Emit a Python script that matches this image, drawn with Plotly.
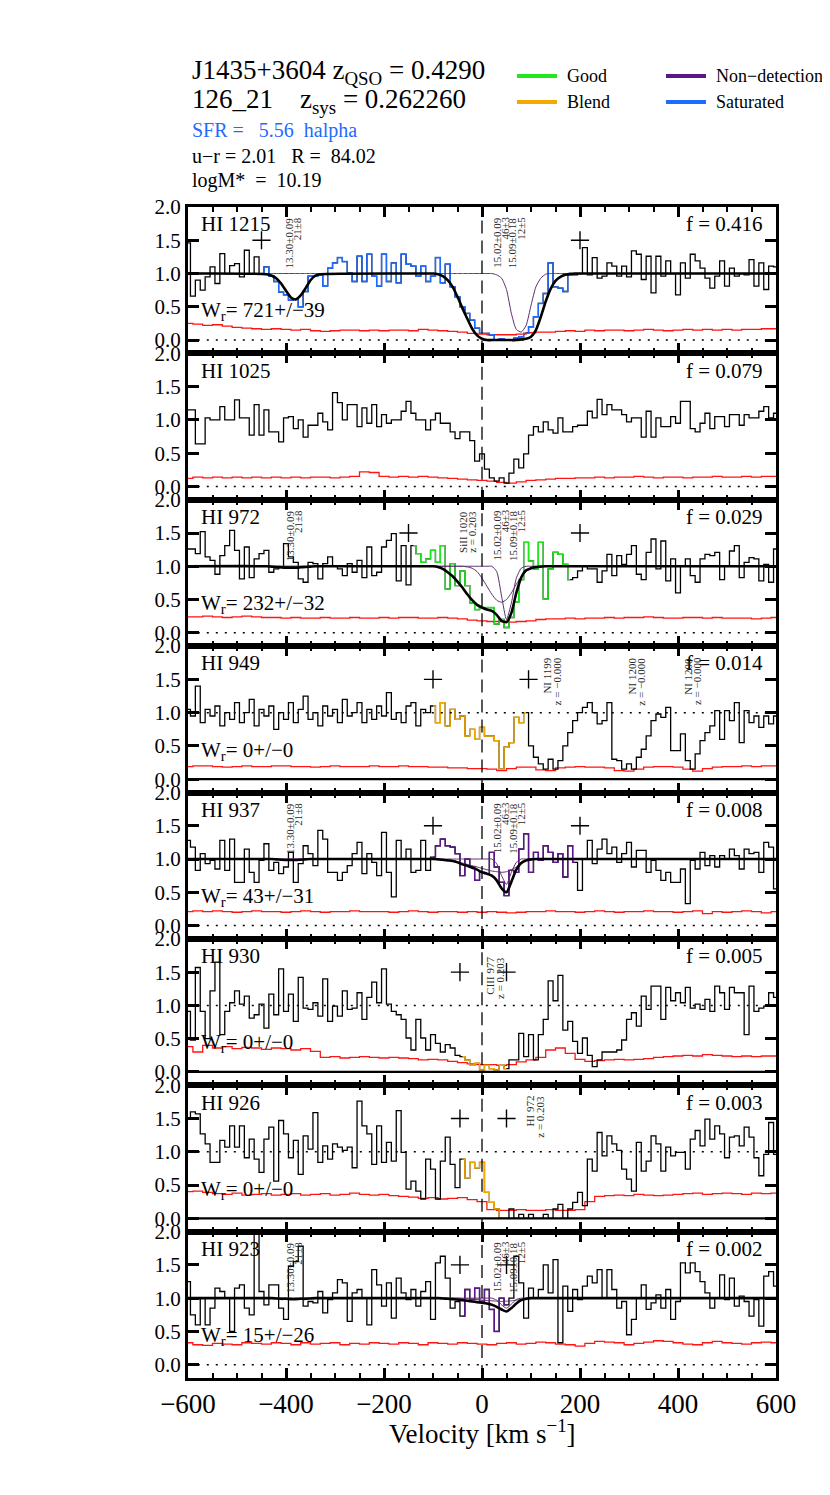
import plotly.graph_objects as go
from plotly.subplots import make_subplots

SERIF = "Liberation Serif, Times New Roman, serif"

# velocity grids (km/s)
VEL = list(range(-600, 601, 10))
ERR_VEL = list(range(-600, 601, 20))
MODEL_VEL = [-600,
             -440, -430, -420, -410, -400, -390, -380, -370, -360, -350, -340, -330,
             -110, -100, -90, -80, -70, -60, -50, -40, -30, -20, -10,
             0, 10, 20, 30, 40, 50, 60, 70, 80, 90,
             100, 110, 120, 130, 140, 150, 160, 170, 180, 190,
             200, 600]

LINES = ["HI 1215", "HI 1025", "HI 972", "HI 949", "HI 937", "HI 930", "HI 926", "HI 923"]
F_VALUES = ["0.416", "0.079", "0.029", "0.014", "0.008", "0.005", "0.003", "0.002"]
W_VALUES = ["721+/\u221239", None, "232+/\u221232", "0+/\u22120", "43+/\u221231",
            "0+/\u22120", "0+/\u22120", "15+/\u221226"]
LIMITS = [(-450, 200), None, (-150, 200), (-100, 95), (-100, 200), (-45, 50), (-45, 50), (-45, 50)]
FLAGS = ["sat", None, "good", "blend", "nondet", "blend", "blend", "nondet"]
SPANS = [(-450, 190), None, (-140, 180), (-100, 90), (-100, 190), (-40, 50), (-40, 40), (-40, 50)]
CONT_STYLE = ["model", None, "model", "dot", "model", "dot", "dot", "model"]
ZERO_STYLE = ["dot", "dot", "dot", "solid", "dot", "solid", "solid", "dot"]

FLUX_1215 = [1.46, 0.66, 0.90, 0.75, 0.95, 1.10, 0.85, 1.30, 1.00, 1.12,
             1.15, 0.95, 1.35, 1.00, 1.25, 1.00, 1.10, 0.96, 0.88, 0.72,
             0.68, 0.60, 0.62, 0.50, 0.73, 0.96, 0.96, 0.98, 0.81, 1.08,
             1.16, 1.24, 1.18, 1.01, 0.88, 1.26, 0.88, 1.29, 0.96, 0.81,
             1.29, 0.88, 1.16, 0.86, 1.29, 1.14, 1.11, 0.96, 1.11, 0.88,
             0.96, 1.24, 0.86, 1.14, 0.80, 0.65, 0.50, 0.40, 0.30, 0.18,
             0.10, 0.10, 0.08, 0.00, 0.02, 0.00, 0.00, 0.03, 0.05, 0.10,
             0.20, 0.35, 0.55, 0.70, 1.16, 0.80, 0.78, 0.73, 0.98, 0.98,
             1.00, 1.39, 0.98, 1.24, 0.93, 0.96, 1.16, 1.11, 0.96, 1.11,
             0.95, 1.34, 1.29, 0.91, 1.26, 0.71, 1.26, 0.96, 1.19, 1.00,
             0.68, 1.16, 0.93, 1.29, 1.19, 1.08, 0.93, 0.78, 0.96, 1.19,
             0.81, 1.08, 0.96, 1.00, 0.98, 1.21, 0.81, 1.16, 0.76, 1.11,
             1.10]
FLUX_1025 = [1.15, 1.15, 0.64, 0.64, 1.03, 1.00, 1.00, 1.20, 1.00, 1.00,
             1.30, 1.03, 1.03, 0.77, 1.23, 0.77, 1.15, 0.82, 0.82, 0.67,
             1.03, 1.05, 0.87, 1.00, 0.74, 0.92, 0.92, 1.10, 0.97, 0.85,
             1.41, 1.26, 1.00, 1.23, 1.23, 0.90, 1.18, 0.95, 1.23, 0.90,
             1.08, 0.95, 1.00, 1.00, 1.13, 1.28, 1.10, 1.00, 1.00, 0.85,
             1.00, 1.10, 0.95, 0.95, 0.82, 0.72, 0.82, 0.82, 0.69, 0.38,
             0.49, 0.26, 0.13, 0.08, 0.13, 0.05, 0.20, 0.41, 0.28, 0.49,
             0.77, 0.90, 0.82, 0.97, 0.85, 0.80, 1.03, 0.82, 0.82, 0.90,
             0.92, 0.92, 1.13, 1.03, 1.31, 1.08, 1.23, 1.15, 1.15, 1.08,
             0.97, 1.03, 1.03, 0.74, 1.13, 0.74, 1.03, 0.90, 0.90, 1.05,
             0.95, 1.28, 1.28, 0.87, 0.82, 0.95, 1.10, 0.87, 1.05, 1.05,
             0.90, 1.08, 1.08, 0.92, 1.08, 1.03, 1.03, 1.13, 1.20, 1.03,
             1.10]
FLUX_972 = [1.26, 1.26, 1.19, 1.52, 1.14, 1.09, 0.88, 1.16, 1.31, 1.54,
            1.24, 0.81, 1.29, 0.83, 1.11, 1.19, 1.24, 0.91, 0.96, 0.98,
            1.34, 1.14, 1.06, 0.81, 0.76, 1.06, 1.04, 0.81, 1.04, 1.14,
            1.01, 0.96, 0.86, 1.04, 0.91, 1.09, 0.83, 1.29, 0.86, 0.91,
            1.29, 1.39, 1.49, 0.78, 1.31, 0.72, 1.31, 1.19, 1.06, 1.11,
            1.24, 1.06, 1.31, 0.66, 1.04, 0.71, 0.93, 0.71, 0.45, 0.35,
            0.38, 0.38, 0.38, 0.13, 0.20, 0.08, 0.23, 0.46, 0.80, 1.36,
            1.08, 0.96, 1.36, 0.51, 0.96, 1.21, 1.18, 1.03, 0.80, 0.83,
            0.93, 1.00, 0.96, 0.96, 0.76, 0.93, 1.18, 0.86, 1.16, 1.03,
            1.18, 1.31, 0.88, 0.80, 1.21, 1.41, 0.96, 1.38, 0.78, 1.11,
            0.60, 1.00, 1.11, 0.86, 0.76, 1.11, 1.18, 1.16, 1.21, 0.80,
            1.00, 1.23, 1.31, 0.83, 1.06, 1.13, 1.11, 0.78, 1.03, 0.76,
            1.26]
FLUX_949 = [1.05, 0.95, 1.40, 0.85, 1.05, 0.95, 1.10, 0.80, 1.00, 0.90,
            1.15, 0.85, 1.00, 1.20, 0.80, 1.05, 0.95, 1.10, 0.75, 1.00,
            0.90, 1.15, 0.85, 1.05, 1.25, 0.90, 1.00, 0.80, 1.10, 0.95,
            1.05, 0.85, 1.20, 0.95, 1.00, 1.15, 0.85, 1.05, 0.90, 1.10,
            0.95, 1.30, 0.90, 1.00, 0.85, 1.10, 1.15, 0.80, 1.05, 1.00,
            1.10, 0.85, 1.15, 0.80, 1.05, 0.90, 0.95, 0.65, 0.75, 0.60,
            0.78, 0.65, 0.65, 0.58, 0.15, 0.48, 0.55, 0.93, 0.85, 1.00,
            0.50, 0.33, 0.23, 0.15, 0.30, 0.15, 0.28, 0.50, 0.70, 0.88,
            1.00, 1.08, 1.15, 1.00, 0.83, 0.88, 1.15, 0.30, 0.28, 0.15,
            0.23, 0.15, 0.33, 0.45, 0.65, 0.88, 0.98, 0.93, 1.08, 0.43,
            0.43, 0.68, 0.28, 0.15, 0.38, 0.58, 0.70, 0.80, 1.03, 0.60,
            1.03, 0.88, 1.15, 0.55, 1.03, 0.85, 0.95, 0.78, 0.95, 0.83,
            0.95]
FLUX_937 = [1.28, 1.18, 0.83, 1.08, 0.93, 0.98, 0.85, 1.28, 0.83, 1.30,
            0.65, 0.65, 1.15, 0.80, 0.65, 0.98, 1.23, 0.83, 0.95, 0.78,
            0.88, 1.10, 0.65, 0.93, 1.20, 1.08, 0.90, 1.43, 1.30, 0.80,
            0.80, 0.68, 0.80, 0.90, 1.08, 1.25, 0.78, 1.08, 0.95, 0.75,
            1.40, 0.80, 0.43, 1.28, 1.00, 1.15, 0.80, 0.83, 1.28, 0.83,
            1.03, 1.20, 1.30, 1.20, 1.18, 1.08, 0.75, 1.00, 0.88, 0.68,
            0.80, 0.78, 1.10, 0.88, 0.65, 0.45, 0.83, 0.80, 1.15, 1.38,
            0.80, 1.10, 0.98, 1.20, 1.10, 0.95, 1.08, 0.73, 1.20, 0.95,
            0.53, 1.00, 1.28, 0.93, 1.15, 1.30, 1.08, 1.18, 0.95, 1.08,
            1.25, 0.88, 1.13, 1.13, 0.80, 0.98, 0.83, 0.68, 0.80, 0.65,
            0.65, 0.85, 0.33, 0.98, 0.85, 1.10, 0.90, 1.05, 0.88, 1.05,
            1.00, 1.15, 1.05, 0.85, 1.15, 1.08, 1.10, 0.80, 1.25, 1.18,
            0.55]
FLUX_930 = [0.91, 0.48, 1.57, 0.91, 0.50, 1.22, 1.65, 0.56, 0.91, 1.04,
            1.22, 1.02, 1.14, 0.81, 0.86, 1.02, 0.66, 1.17, 0.86, 1.55,
            0.91, 1.17, 0.76, 1.42, 0.96, 0.94, 1.04, 0.84, 1.40, 0.76,
            0.99, 0.84, 1.22, 0.94, 0.96, 1.19, 0.79, 1.12, 1.35, 1.04,
            1.55, 1.02, 0.91, 0.86, 0.79, 0.51, 0.33, 0.79, 0.51, 0.33,
            0.56, 0.43, 0.30, 0.41, 0.36, 0.25, 0.23, 0.18, 0.10, 0.13,
            0.03, 0.10, 0.05, 0.03, 0.10, 0.05, 0.18, 0.18, 0.58, 0.23,
            0.56, 0.18, 0.56, 0.79, 1.37, 1.07, 1.45, 0.63, 0.76, 0.46,
            0.28, 0.51, 0.25, 0.08, 0.18, 0.30, 0.30, 0.30, 0.33, 0.48,
            0.79, 0.89, 0.69, 1.14, 0.94, 1.29, 1.29, 0.79, 1.27, 1.07,
            1.19, 1.04, 1.27, 0.96, 1.02, 0.94, 1.09, 0.91, 1.29, 1.19,
            0.94, 1.27, 1.19, 1.19, 0.56, 1.29, 0.91, 0.96, 0.99, 1.19,
            1.12]
FLUX_926 = [1.49, 1.60, 1.57, 1.27, 1.12, 0.84, 0.84, 1.17, 1.07, 1.39,
            1.07, 1.39, 0.91, 1.19, 0.89, 0.69, 1.19, 1.37, 0.56, 1.47,
            1.27, 0.91, 1.17, 0.66, 1.24, 1.04, 1.59, 0.84, 1.09, 0.89,
            1.12, 1.07, 1.02, 1.07, 0.76, 1.76, 1.39, 1.27, 0.81, 1.39,
            0.84, 1.14, 0.86, 1.62, 0.99, 0.44, 0.56, 0.41, 0.29, 0.89,
            0.74, 0.29, 0.86, 1.22, 0.81, 0.46, 0.89, 0.61, 0.84, 0.76,
            0.84, 0.39, 0.24, 0.14, 0.00, 0.00, 0.14, 0.00, 0.06, 0.00,
            0.06, 0.00, 0.00, 0.06, 0.00, 0.14, 0.21, 0.00, 0.14, 0.24,
            0.39, 0.19, 0.89, 0.71, 1.29, 0.94, 1.24, 1.12, 1.02, 0.74,
            0.59, 0.41, 1.14, 0.71, 0.86, 1.24, 1.12, 0.71, 1.07, 0.94,
            0.99, 0.99, 0.74, 1.19, 1.32, 1.09, 1.49, 1.19, 1.39, 1.27,
            0.91, 1.22, 1.24, 1.09, 1.37, 1.22, 0.91, 0.64, 0.96, 1.44,
            0.96]
FLUX_923 = [1.25, 0.75, 0.60, 1.00, 0.60, 0.85, 1.15, 1.10, 1.00, 0.50,
            1.15, 1.20, 0.85, 0.75, 2.00, 1.10, 0.90, 1.20, 1.20, 0.85,
            0.68, 1.48, 1.55, 1.78, 0.88, 0.95, 0.93, 1.10, 0.78, 0.98,
            1.08, 1.28, 1.23, 0.65, 1.08, 1.13, 1.00, 0.60, 1.43, 1.20,
            0.88, 1.23, 0.70, 1.30, 1.08, 0.98, 1.13, 0.88, 1.10, 1.25,
            0.68, 1.53, 1.63, 1.30, 0.85, 0.95, 0.73, 1.13, 0.98, 1.15,
            0.95, 1.13, 0.83, 0.50, 1.00, 0.90, 1.00, 1.63, 1.23, 0.70,
            1.15, 1.00, 1.13, 1.50, 1.08, 1.58, 0.33, 1.18, 0.80, 1.13,
            0.98, 1.18, 1.33, 1.23, 1.43, 1.00, 1.43, 1.13, 0.85, 0.95,
            0.45, 0.68, 1.00, 1.20, 0.83, 0.93, 1.05, 0.85, 1.13, 0.68,
            0.95, 1.53, 1.38, 1.53, 1.40, 1.25, 1.08, 0.85, 1.00, 1.35,
            0.98, 1.30, 0.88, 1.03, 0.95, 0.73, 0.98, 0.58, 1.33, 1.40,
            1.18]

ERR_1215 = [0.25, 0.24, 0.22, 0.23, 0.21, 0.19, 0.18, 0.17, 0.16, 0.17,
            0.16, 0.15, 0.16, 0.14, 0.13, 0.14, 0.15, 0.15, 0.14, 0.15,
            0.14, 0.15, 0.15, 0.14, 0.16, 0.15, 0.14, 0.13, 0.12, 0.10,
            0.09, 0.08, 0.08, 0.08, 0.09, 0.11, 0.12, 0.12, 0.13, 0.14,
            0.13, 0.15, 0.14, 0.15, 0.15, 0.14, 0.15, 0.16, 0.15, 0.14,
            0.15, 0.16, 0.15, 0.16, 0.15, 0.16, 0.15, 0.16, 0.16, 0.17,
            0.17]
ERR_1025 = [0.12, 0.14, 0.13, 0.14, 0.13, 0.14, 0.13, 0.14, 0.13, 0.14,
            0.13, 0.14, 0.13, 0.14, 0.14, 0.13, 0.14, 0.15, 0.22, 0.21,
            0.15, 0.14, 0.15, 0.14, 0.15, 0.14, 0.13, 0.12, 0.11, 0.10,
            0.09, 0.08, 0.06, 0.05, 0.07, 0.09, 0.10, 0.11, 0.12, 0.12,
            0.13, 0.13, 0.14, 0.13, 0.14, 0.14, 0.15, 0.14, 0.13, 0.14,
            0.14, 0.13, 0.14, 0.14, 0.15, 0.14, 0.14, 0.15, 0.14, 0.15,
            0.15]
ERR_972 = [0.24, 0.24, 0.25, 0.24, 0.23, 0.24, 0.25, 0.24, 0.23, 0.23,
           0.22, 0.23, 0.22, 0.22, 0.23, 0.22, 0.22, 0.23, 0.22, 0.22,
           0.23, 0.22, 0.23, 0.23, 0.22, 0.22, 0.23, 0.22, 0.21, 0.19,
           0.18, 0.17, 0.17, 0.16, 0.17, 0.18, 0.20, 0.21, 0.21, 0.22,
           0.21, 0.22, 0.22, 0.23, 0.22, 0.23, 0.23, 0.24, 0.23, 0.22,
           0.22, 0.23, 0.23, 0.22, 0.23, 0.22, 0.22, 0.22, 0.21, 0.22,
           0.23]
ERR_949 = [0.19, 0.20, 0.20, 0.19, 0.18, 0.19, 0.20, 0.19, 0.19, 0.20,
           0.20, 0.19, 0.19, 0.18, 0.19, 0.20, 0.19, 0.19, 0.19, 0.20,
           0.19, 0.19, 0.20, 0.19, 0.19, 0.18, 0.18, 0.17, 0.17, 0.16,
           0.16, 0.15, 0.13, 0.16, 0.18, 0.18, 0.14, 0.13, 0.17, 0.18,
           0.19, 0.18, 0.18, 0.17, 0.13, 0.12, 0.15, 0.18, 0.19, 0.19,
           0.18, 0.15, 0.12, 0.16, 0.18, 0.19, 0.19, 0.20, 0.19, 0.20,
           0.20]
ERR_937 = [0.21, 0.22, 0.21, 0.22, 0.21, 0.20, 0.21, 0.22, 0.21, 0.21,
           0.20, 0.21, 0.22, 0.21, 0.20, 0.21, 0.21, 0.22, 0.21, 0.21,
           0.21, 0.20, 0.21, 0.22, 0.21, 0.20, 0.21, 0.21, 0.20, 0.21,
           0.20, 0.21, 0.20, 0.19, 0.20, 0.21, 0.21, 0.22, 0.21, 0.21,
           0.20, 0.21, 0.22, 0.21, 0.20, 0.21, 0.21, 0.22, 0.21, 0.21,
           0.20, 0.21, 0.22, 0.18, 0.21, 0.20, 0.21, 0.22, 0.21, 0.19,
           0.21]
ERR_930 = [0.38, 0.30, 0.40, 0.36, 0.38, 0.35, 0.37, 0.36, 0.34, 0.36,
           0.35, 0.33, 0.35, 0.31, 0.22, 0.23, 0.21, 0.22, 0.23, 0.22,
           0.21, 0.22, 0.21, 0.20, 0.18, 0.19, 0.18, 0.16, 0.14, 0.12,
           0.11, 0.11, 0.10, 0.11, 0.15, 0.18, 0.22, 0.33, 0.36, 0.28,
           0.19, 0.16, 0.17, 0.18, 0.19, 0.18, 0.19, 0.20, 0.22, 0.23,
           0.24, 0.25, 0.24, 0.26, 0.25, 0.24, 0.23, 0.24, 0.23, 0.24,
           0.24]
ERR_926 = [0.40, 0.41, 0.39, 0.37, 0.36, 0.38, 0.35, 0.36, 0.37, 0.35,
           0.36, 0.37, 0.35, 0.36, 0.37, 0.35, 0.36, 0.38, 0.36, 0.35,
           0.36, 0.34, 0.33, 0.32, 0.30, 0.31, 0.29, 0.30, 0.31, 0.28,
           0.25, 0.13, 0.12, 0.12, 0.13, 0.12, 0.12, 0.13, 0.12, 0.12,
           0.13, 0.25, 0.33, 0.34, 0.35, 0.34, 0.36, 0.35, 0.34, 0.35,
           0.36, 0.37, 0.38, 0.36, 0.37, 0.38, 0.37, 0.36, 0.38, 0.37,
           0.38]
ERR_923 = [0.33, 0.30, 0.29, 0.32, 0.31, 0.30, 0.33, 0.32, 0.31, 0.33,
           0.32, 0.30, 0.33, 0.31, 0.32, 0.33, 0.30, 0.32, 0.31, 0.33,
           0.32, 0.31, 0.33, 0.32, 0.30, 0.33, 0.32, 0.31, 0.33, 0.32,
           0.31, 0.30, 0.32, 0.33, 0.31, 0.32, 0.34, 0.33, 0.31, 0.30,
           0.28, 0.32, 0.35, 0.34, 0.33, 0.30, 0.32, 0.34, 0.36, 0.35,
           0.33, 0.31, 0.30, 0.33, 0.35, 0.33, 0.32, 0.31, 0.33, 0.34,
           0.33]

# Voigt fits sampled on MODEL_VEL (total = thick black, components = thin)
MODEL_1215 = [1.0,
              0.99, 0.97, 0.93, 0.85, 0.74, 0.64, 0.61, 0.67, 0.78, 0.90, 0.97, 0.99,
              1.0, 1.0, 0.99, 0.96, 0.90, 0.80, 0.65, 0.48, 0.32, 0.17, 0.07,
              0.02, 0.0, 0.0, 0.0, 0.0, 0.0, 0.0, 0.0, 0.01, 0.02,
              0.05, 0.15, 0.35, 0.58, 0.77, 0.89, 0.95, 0.98, 0.995, 1.0,
              1.0, 1.0]
COMP_B_1215 = [1.0,
               1.0, 1.0, 1.0, 1.0, 1.0, 1.0, 1.0, 1.0, 1.0, 1.0, 1.0, 1.0,
               1.0, 1.0, 1.0, 1.0, 1.0, 1.0, 1.0, 1.0, 1.0, 1.0, 1.0,
               1.0, 1.0, 1.0, 0.98, 0.93, 0.76, 0.40, 0.16, 0.12, 0.22,
               0.52, 0.80, 0.93, 0.99, 1.0, 1.0, 1.0, 1.0, 1.0, 1.0,
               1.0, 1.0]
MODEL_972 = [1.0,
             1.0, 0.995, 0.99, 0.985, 0.98, 0.98, 0.98, 0.985, 0.99, 0.995, 1.0, 1.0,
             1.0, 1.0, 0.99, 0.96, 0.91, 0.85, 0.77, 0.68, 0.58, 0.49, 0.42,
             0.38, 0.35, 0.33, 0.27, 0.18, 0.16, 0.30, 0.60, 0.83, 0.94,
             0.97, 0.99, 0.995, 1.0, 1.0, 1.0, 1.0, 1.0, 1.0, 1.0,
             1.0, 1.0]
COMP_A_972 = [1.0,
              1.0, 1.0, 1.0, 1.0, 1.0, 1.0, 1.0, 1.0, 1.0, 1.0, 1.0, 1.0,
              1.0, 1.0, 1.0, 1.0, 1.0, 1.0, 1.0, 1.0, 0.99, 0.97, 0.92,
              0.82, 0.70, 0.58, 0.49, 0.46, 0.50, 0.60, 0.73, 0.84, 0.92,
              0.97, 0.99, 1.0, 1.0, 1.0, 1.0, 1.0, 1.0, 1.0, 1.0,
              1.0, 1.0]
COMP_B_972 = [1.0,
              1.0, 1.0, 1.0, 1.0, 1.0, 1.0, 1.0, 1.0, 1.0, 1.0, 1.0, 1.0,
              1.0, 1.0, 1.0, 1.0, 1.0, 1.0, 1.0, 1.0, 1.0, 1.0, 1.0,
              1.0, 1.0, 1.0, 0.92, 0.55, 0.20, 0.45, 0.82, 0.97, 1.0,
              1.0, 1.0, 1.0, 1.0, 1.0, 1.0, 1.0, 1.0, 1.0, 1.0,
              1.0, 1.0]
MODEL_937 = [1.0,
             1.0, 1.0, 0.995, 0.99, 0.985, 0.985, 0.985, 0.99, 0.995, 1.0, 1.0, 1.0,
             1.0, 1.0, 0.995, 0.99, 0.98, 0.97, 0.95, 0.92, 0.90, 0.87, 0.84,
             0.80, 0.78, 0.75, 0.68, 0.56, 0.50, 0.66, 0.84, 0.94, 0.98,
             0.995, 1.0, 1.0, 1.0, 1.0, 1.0, 1.0, 1.0, 1.0, 1.0,
             1.0, 1.0]
COMP_A_937 = [1.0,
              1.0, 1.0, 1.0, 1.0, 1.0, 1.0, 1.0, 1.0, 1.0, 1.0, 1.0, 1.0,
              1.0, 1.0, 1.0, 0.995, 0.99, 0.98, 0.96, 0.94, 0.92, 0.90, 0.88,
              0.86, 0.84, 0.82, 0.81, 0.80, 0.81, 0.84, 0.88, 0.93, 0.97,
              0.99, 1.0, 1.0, 1.0, 1.0, 1.0, 1.0, 1.0, 1.0, 1.0,
              1.0, 1.0]
COMP_B_937 = [1.0,
              1.0, 1.0, 1.0, 1.0, 1.0, 1.0, 1.0, 1.0, 1.0, 1.0, 1.0, 1.0,
              1.0, 1.0, 1.0, 1.0, 1.0, 1.0, 1.0, 1.0, 1.0, 1.0, 1.0,
              1.0, 1.0, 1.0, 0.93, 0.75, 0.62, 0.80, 0.95, 1.0, 1.0,
              1.0, 1.0, 1.0, 1.0, 1.0, 1.0, 1.0, 1.0, 1.0, 1.0,
              1.0, 1.0]
MODEL_923 = [1.0,
             1.0, 1.0, 0.995, 0.99, 0.99, 0.985, 0.985, 0.99, 0.99, 0.995, 1.0, 1.0,
             1.0, 1.0, 1.0, 0.995, 0.99, 0.985, 0.98, 0.97, 0.96, 0.95, 0.94,
             0.93, 0.92, 0.90, 0.87, 0.83, 0.80, 0.85, 0.92, 0.97, 0.99,
             1.0, 1.0, 1.0, 1.0, 1.0, 1.0, 1.0, 1.0, 1.0, 1.0,
             1.0, 1.0]
COMP_A_923 = [1.0,
              1.0, 1.0, 1.0, 1.0, 1.0, 1.0, 1.0, 1.0, 1.0, 1.0, 1.0, 1.0,
              1.0, 1.0, 1.0, 1.0, 1.0, 1.0, 1.0, 0.995, 0.99, 0.985, 0.98,
              0.97, 0.965, 0.96, 0.955, 0.95, 0.955, 0.96, 0.97, 0.98, 0.99,
              1.0, 1.0, 1.0, 1.0, 1.0, 1.0, 1.0, 1.0, 1.0, 1.0,
              1.0, 1.0]
COMP_B_923 = [1.0,
              1.0, 1.0, 1.0, 1.0, 1.0, 1.0, 1.0, 1.0, 1.0, 1.0, 1.0, 1.0,
              1.0, 1.0, 1.0, 1.0, 1.0, 1.0, 1.0, 1.0, 1.0, 1.0, 1.0,
              1.0, 1.0, 1.0, 0.97, 0.90, 0.85, 0.91, 0.98, 1.0, 1.0,
              1.0, 1.0, 1.0, 1.0, 1.0, 1.0, 1.0, 1.0, 1.0, 1.0,
              1.0, 1.0]

FLUXES = [FLUX_1215, FLUX_1025, FLUX_972, FLUX_949, FLUX_937, FLUX_930, FLUX_926, FLUX_923]
ERRORS = [ERR_1215, ERR_1025, ERR_972, ERR_949, ERR_937, ERR_930, ERR_926, ERR_923]
MODELS = [MODEL_1215, None, MODEL_972, None, MODEL_937, None, None, MODEL_923]
COMPONENTS = [[COMP_B_1215], [], [COMP_A_972, COMP_B_972], [], [COMP_A_937, COMP_B_937],
              [], [], [COMP_A_923, COMP_B_923]]

# vertical label lines (velocity of the text line, text)
COMP_LABELS = [(-392, "13.30\u00b10.09"), (-376, "21\u00b18"),
               (31, "15.02\u00b10.09"), (47, "46\u00b13"),
               (63, "15.09\u00b10.18"), (80, "12\u00b15")]
COMP_PANELS = [1, 3, 5, 8]
LINE_IDS = {3: [(-39, "SiII 1020"), (-21, "z = 0.203")],
            4: [(133, "NI 1199"), (153, "z = \u22120.000"),
                (305, "NI 1200"), (325, "z = \u22120.000"),
                (420, "NI 1200"), (440, "z = \u22120.000")],
            6: [(16, "CIII 977"), (37, "z = 0.203")],
            7: [(98, "HI 972"), (118, "z = 0.203")]}
LINE_ID_TOP = {3: 1.86, 4: 1.86, 6: 1.76, 7: 1.87}

FLAG_COLORS = {"good": "#1fe81f", "blend": "#f5a800", "nondet": "#5b168c", "sat": "#1f6bff"}
COMP_COLOR = "#5e2d6b"

fig = make_subplots(rows=8, cols=1, shared_xaxes=True, vertical_spacing=0)

for i in range(8):
    r = i + 1
    sfx = "" if r == 1 else str(r)
    fig.add_trace(go.Scatter(x=ERR_VEL, y=ERRORS[i], mode="lines",
                             line=dict(color="#ff1414", width=1.3, shape="hvh"),
                             showlegend=False, hoverinfo="skip"), row=r, col=1)
    fig.add_trace(go.Scatter(x=VEL, y=FLUXES[i], mode="lines",
                             line=dict(color="black", width=1.3, shape="hvh"),
                             showlegend=False, hoverinfo="skip"), row=r, col=1)
    if SPANS[i]:
        a = VEL.index(SPANS[i][0])
        b = VEL.index(SPANS[i][1]) + 1
        fig.add_trace(go.Scatter(x=VEL[a:b], y=FLUXES[i][a:b], mode="lines",
                                 line=dict(color=FLAG_COLORS[FLAGS[i]], width=1.4, shape="hvh"),
                                 showlegend=False, hoverinfo="skip"), row=r, col=1)
    for comp in COMPONENTS[i]:
        fig.add_trace(go.Scatter(x=MODEL_VEL, y=comp, mode="lines",
                                 line=dict(color=COMP_COLOR, width=1, shape="spline", smoothing=0.6),
                                 showlegend=False, hoverinfo="skip"), row=r, col=1)
    if MODELS[i]:
        fig.add_trace(go.Scatter(x=MODEL_VEL, y=MODELS[i], mode="lines",
                                 line=dict(color="black", width=2.6, shape="spline", smoothing=0.6),
                                 showlegend=False, hoverinfo="skip"), row=r, col=1)
    if LIMITS[i]:
        fig.add_trace(go.Scatter(x=list(LIMITS[i]), y=[1.5, 1.5], mode="markers",
                                 marker=dict(symbol="cross-thin", size=13,
                                             line=dict(color="black", width=1.4)),
                                 showlegend=False, hoverinfo="skip"), row=r, col=1)

    # reference lines
    if CONT_STYLE[i] == "dot":
        fig.add_shape(type="line", xref=f"x{sfx}", yref=f"y{sfx}", x0=-580, x1=580, y0=1, y1=1,
                      line=dict(color="black", width=1.5, dash="2px,7px"))
    if ZERO_STYLE[i] == "dot":
        fig.add_shape(type="line", xref=f"x{sfx}", yref=f"y{sfx}", x0=-580, x1=580, y0=0, y1=0,
                      line=dict(color="black", width=1.5, dash="2px,7px"))
    else:
        fig.add_shape(type="line", xref=f"x{sfx}", yref=f"y{sfx}", x0=-600, x1=600, y0=0, y1=0,
                      line=dict(color="black", width=2.2))
    fig.add_shape(type="line", xref=f"x{sfx}", yref=f"y{sfx} domain", x0=0, x1=0, y0=0, y1=1,
                  line=dict(color="black", width=1.3, dash="13px,7px"))

    # panel texts
    fig.add_annotation(x=-578, y=1.74, xref=f"x{sfx}", yref=f"y{sfx}", text=LINES[i],
                       showarrow=False, xanchor="left", yanchor="middle",
                       font=dict(family=SERIF, size=21, color="black"))
    fig.add_annotation(x=578, y=1.74, xref=f"x{sfx}", yref=f"y{sfx}", text=f"f = {F_VALUES[i]}",
                       showarrow=False, xanchor="right", yanchor="middle",
                       font=dict(family=SERIF, size=21, color="black"))
    if W_VALUES[i]:
        fig.add_annotation(x=-578, y=0.43, xref=f"x{sfx}", yref=f"y{sfx}",
                           text=f"W<sub>r</sub>= {W_VALUES[i]}",
                           showarrow=False, xanchor="left", yanchor="middle",
                           font=dict(family=SERIF, size=21, color="black"))
    labels = []
    if r in COMP_PANELS:
        labels += [(v, t, 1.88) for v, t in COMP_LABELS]
    labels += [(v, t, LINE_ID_TOP.get(r, 1.86)) for v, t in LINE_IDS.get(r, [])]
    for v, txt, top in labels:
        fig.add_annotation(x=v, y=top, xref=f"x{sfx}", yref=f"y{sfx}", text=txt,
                           showarrow=False, textangle=-90,
                           xanchor="center", yanchor="top",
                           font=dict(family=SERIF, size=11, color="#2a2a2a"))

fig.update_xaxes(range=[-600, 600], showline=True, linewidth=3, linecolor="black",
                 mirror="allticks", ticks="inside", ticklen=10, tickwidth=3, tickcolor="black",
                 tick0=0, dtick=200, showgrid=False, zeroline=False,
                 minor=dict(dtick=50, ticks="inside", ticklen=5, tickwidth=2, tickcolor="black"),
                 tickfont=dict(family=SERIF, size=27, color="black"))
fig.update_yaxes(range=[-0.2, 2.0], showline=True, linewidth=3, linecolor="black",
                 mirror="allticks", ticks="inside", ticklen=11, tickwidth=3, tickcolor="black",
                 tickvals=[0, 0.5, 1, 1.5, 2], ticktext=["0.0", "0.5", "1.0", "1.5", "2.0"],
                 showgrid=False, zeroline=False,
                 tickfont=dict(family=SERIF, size=21, color="black"))


def paper(px, py):
    # screen pixel -> paper coordinates (plot area spans x 188..776, y 207..1378 on screen)
    return (px - 188) / 588, (1378 - py) / 1171


# axis title placed at its screen position
xt, yt = paper(482, 1432)
fig.add_annotation(x=xt, y=yt, xref="paper", yref="paper", text="Velocity [km s<sup>\u22121</sup>]",
                   showarrow=False, xanchor="center", yanchor="middle",
                   font=dict(family=SERIF, size=27, color="black"))

# header text
HEADER = [(190, 72, "J1435+3604 z<sub>QSO</sub> = 0.4290", 27, "black"),
          (190, 101, "126_21\u00a0\u00a0\u00a0\u00a0z<sub>sys</sub> = 0.262260", 27, "black"),
          (190, 131, "SFR =\u00a0\u00a0 5.56\u00a0 halpha", 20, "#1f6bff"),
          (190, 156, "u\u2212r = 2.01\u00a0\u00a0 R =\u00a0 84.02", 20, "black"),
          (190, 180, "logM* \u00a0=\u00a0 10.19", 20, "black")]
for hx, hy, txt, size, color in HEADER:
    xp, yp = paper(hx, hy)
    fig.add_annotation(x=xp, y=yp, xref="paper", yref="paper", text=txt, showarrow=False,
                       xanchor="left", yanchor="middle",
                       font=dict(family=SERIF, size=size, color=color))

LEGEND = [("Good", "good", 517, 76), ("Blend", "blend", 517, 102),
          ("Non\u2212detection", "nondet", 666, 76), ("Saturated", "sat", 666, 102)]
for name, key, lx, ly in LEGEND:
    x0, y0 = paper(lx, ly)
    x1, _ = paper(lx + 40, ly)
    fig.add_shape(type="line", xref="paper", yref="paper", x0=x0, x1=x1, y0=y0, y1=y0,
                  line=dict(color=FLAG_COLORS[key], width=4))
    xl, yl = paper(lx + 48, ly)
    fig.add_annotation(x=xl, y=yl, xref="paper", yref="paper", text=name, showarrow=False,
                       xanchor="left", yanchor="middle",
                       font=dict(family=SERIF, size=18, color="black"))

# the page body adds an 8px offset, so margins are reduced by 8 on left/top
fig.update_layout(width=830, height=1495, margin=dict(l=180, r=62, t=199, b=125),
                  paper_bgcolor="white", plot_bgcolor="white", showlegend=False)

fig.write_html("out.html")
